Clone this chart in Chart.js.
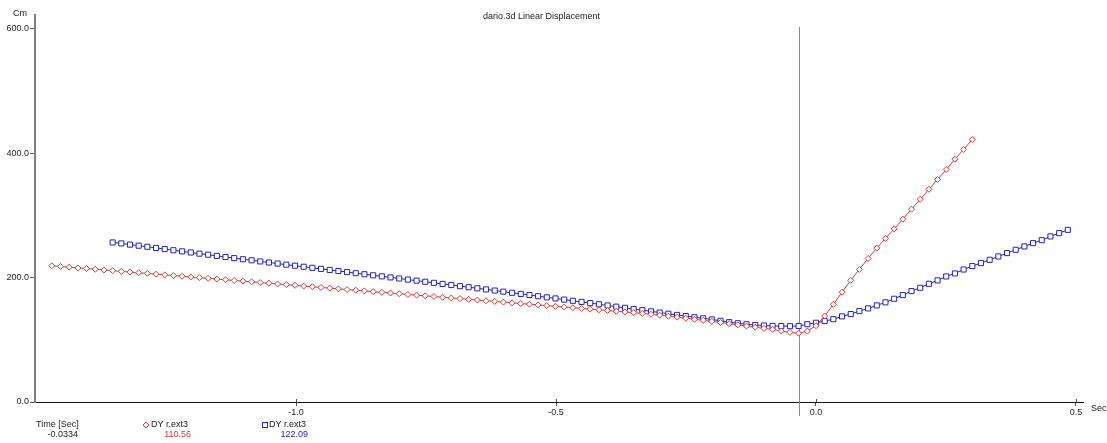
<!doctype html>
<html>
<head>
	<title>dario.3d Linear Displacement</title>
	<script src="https://cdn.jsdelivr.net/npm/chart.js@4/dist/chart.umd.min.js"></script>
	<style>
	body { margin: 0; background: #fff; }
	canvas { display: block; }
	</style>
</head>
<body>
	<canvas id="canvas1" width="1107" height="443"></canvas>
	<script>
		// time samples [Sec], 0.0167 s apart
		var times = [
			-1.4696, -1.4529, -1.4362, -1.4195, -1.4028, -1.3861, -1.3694, -1.3527, -1.336, -1.3193,
			-1.3026, -1.2859, -1.2692, -1.2525, -1.2358, -1.2191, -1.2024, -1.1857, -1.169, -1.1523,
			-1.1356, -1.1189, -1.1022, -1.0855, -1.0688, -1.0521, -1.0354, -1.0187, -1.002, -0.9853,
			-0.9686, -0.9519, -0.9352, -0.9185, -0.9018, -0.8851, -0.8684, -0.8517, -0.835, -0.8183,
			-0.8016, -0.7849, -0.7682, -0.7515, -0.7348, -0.7181, -0.7014, -0.6847, -0.668, -0.6513,
			-0.6346, -0.6179, -0.6012, -0.5845, -0.5678, -0.5511, -0.5344, -0.5177, -0.501, -0.4843,
			-0.4676, -0.4509, -0.4342, -0.4175, -0.4008, -0.3841, -0.3674, -0.3507, -0.334, -0.3173,
			-0.3006, -0.2839, -0.2672, -0.2505, -0.2338, -0.2171, -0.2004, -0.1837, -0.167, -0.1503,
			-0.1336, -0.1169, -0.1002, -0.0835, -0.0668, -0.0501, -0.0334, -0.0167, 0, 0.0167,
			0.0334, 0.0501, 0.0668, 0.0835, 0.1002, 0.1169, 0.1336, 0.1503, 0.167, 0.1837,
			0.2004, 0.2171, 0.2338, 0.2505, 0.2672, 0.2839, 0.3006, 0.3173, 0.334, 0.3507,
			0.3674, 0.3841, 0.4008, 0.4175, 0.4342, 0.4509, 0.4676, 0.4843
		];
		// DY r.ext3 (red, diamonds) [Cm]
		var dyRed = [
			219.0, 217.9, 216.8, 215.6, 214.5, 213.4, 212.3, 211.2, 210.0, 208.9,
			207.8, 206.7, 205.5, 204.4, 203.3, 202.2, 201.0, 199.9, 198.8, 197.7,
			196.5, 195.4, 194.3, 193.2, 192.0, 190.9, 189.8, 188.7, 187.6, 186.4,
			185.3, 184.2, 183.1, 181.9, 180.8, 179.7, 178.6, 177.4, 176.3, 175.2,
			174.1, 172.9, 171.8, 170.7, 169.6, 168.4, 167.3, 166.2, 165.1, 163.9,
			162.8, 161.7, 160.6, 159.4, 158.3, 157.2, 156.1, 154.9, 153.8, 152.7,
			151.6, 150.4, 149.3, 148.2, 147.1, 145.9, 144.8, 143.6, 142.4, 141.0,
			139.5, 138.0, 136.4, 134.7, 133.0, 131.3, 129.6, 127.8, 125.9, 124.0,
			122.1, 120.2, 118.4, 116.8, 114.1, 112.0, 110.56, 114.1, 122.6, 138.2,
			157.0, 176.5, 195.5, 213.2, 230.8, 247.4, 263.0, 278.4, 294.0, 310.0,
			326.0, 342.0, 357.8, 373.8, 390.4, 406.0, 422.0, null, null, null,
			null, null, null, null, null, null, null, null
		];
		// DY r.ext3 (blue, squares) [Cm]
		var dyBlue = [
			null, null, null, null, null, null, null, 256.5, 255.0, 253.0,
			251.3, 249.6, 247.6, 245.9, 244.0, 242.2, 240.4, 238.5, 236.8, 234.9,
			233.1, 231.3, 229.5, 227.8, 226.0, 224.3, 222.6, 220.8, 219.1, 217.4,
			215.7, 214.0, 212.3, 210.6, 208.9, 207.1, 205.4, 203.7, 202.0, 200.3,
			198.6, 196.8, 195.1, 193.3, 191.6, 189.8, 188.1, 186.3, 184.6, 182.8,
			181.0, 179.2, 177.4, 175.6, 173.8, 172.0, 170.1, 168.3, 166.5, 164.6,
			162.7, 160.9, 159.0, 157.1, 155.2, 153.3, 151.4, 149.5, 147.6, 145.7,
			143.8, 141.9, 140.0, 138.2, 136.3, 134.5, 132.7, 130.6, 128.4, 126.6,
			125.0, 123.8, 122.9, 122.3, 122.0, 121.9, 122.09, 125.0, 127.4, 130.1,
			133.2, 137.7, 141.4, 146.2, 150.5, 155.3, 160.2, 166.0, 171.9, 178.3,
			183.6, 190.0, 195.5, 201.9, 206.7, 213.0, 218.5, 223.3, 228.6, 234.0,
			239.4, 244.7, 250.1, 255.4, 260.2, 266.2, 271.5, 276.8
		];
		var xTicks = [-1.0, -0.5, 0.0, 0.5];
		var yTicks = [0, 200, 400, 600];
		var cursorTime = -0.0334;
		var seriesName = 'DY r.ext3';

		var RED = '#d43a3a';
		var BLUE = '#2424b4';
		var FONT = "'Liberation Sans', Arial, sans-serif";

		function toPoints(vals) {
			var pts = [];
			for (var i = 0; i < times.length; i++) {
				if (vals[i] !== null) pts.push({ x: times[i], y: vals[i] });
			}
			return pts;
		}

		var cursorIdx = times.indexOf(cursorTime);

		// cursor line, axis extension and the readout under the chart
		var overlay = {
			id: 'overlay',
			beforeDatasetsDraw: function(chart) {
				var ctx = chart.ctx;
				var cx = Math.round(chart.scales.x.getPixelForValue(cursorTime)) + 0.5;
				ctx.save();
				ctx.strokeStyle = '#8a8a8a';
				ctx.lineWidth = 1;
				ctx.beginPath();
				ctx.moveTo(cx, chart.chartArea.top - 2);
				ctx.lineTo(cx, 416);
				ctx.stroke();
				// x ticks poke a little above the axis too
				ctx.strokeStyle = '#555';
				chart.scales.x.ticks.forEach(function(t) {
					var tx = Math.round(chart.scales.x.getPixelForValue(t.value)) + 0.5;
					ctx.beginPath();
					ctx.moveTo(tx, chart.chartArea.bottom - 3);
					ctx.lineTo(tx, chart.chartArea.bottom);
					ctx.stroke();
				});
				ctx.restore();
			},
			afterDraw: function(chart) {
				var ctx = chart.ctx;
				var left = chart.chartArea.left;
				ctx.save();
				ctx.strokeStyle = '#808080';
				ctx.lineWidth = 2;
				ctx.beginPath();
				ctx.moveTo(left, 14);
				ctx.lineTo(left, chart.chartArea.top);
				ctx.stroke();

				ctx.font = '9px ' + FONT;
				ctx.textBaseline = 'middle';
				ctx.fillStyle = '#222';
				ctx.textAlign = 'right';
				ctx.fillText('Cm', 27, 14);
				ctx.textAlign = 'left';
				ctx.fillText('Sec', 1091, 409);

				// readout
				ctx.fillText('Time [Sec]', 36, 425);
				ctx.textAlign = 'right';
				ctx.fillText(cursorTime.toFixed(4), 78, 435);

				ctx.lineWidth = 1;
				ctx.strokeStyle = RED;
				ctx.beginPath();
				ctx.moveTo(146, 422); ctx.lineTo(149, 425); ctx.lineTo(146, 428); ctx.lineTo(143, 425);
				ctx.closePath();
				ctx.stroke();
				ctx.textAlign = 'left';
				ctx.fillText(seriesName, 151, 425);
				ctx.fillStyle = RED;
				ctx.textAlign = 'right';
				ctx.fillText(dyRed[cursorIdx].toFixed(2), 191, 435);

				ctx.strokeStyle = BLUE;
				ctx.strokeRect(262.5, 422.5, 5, 5);
				ctx.fillStyle = '#222';
				ctx.textAlign = 'left';
				ctx.fillText(seriesName, 269, 425);
				ctx.fillStyle = BLUE;
				ctx.textAlign = 'right';
				ctx.fillText(dyBlue[cursorIdx].toFixed(2), 308, 435);
				ctx.restore();
			}
		};

		window.onload = function() {
			var ctx1 = document.getElementById('canvas1').getContext('2d');
			window.myLine = new Chart(ctx1, {
				type: 'line',
				data: {
					datasets: [
						{
							label: seriesName,
							data: toPoints(dyRed),
							borderColor: RED,
							borderWidth: 1,
							pointStyle: 'rectRot',
							pointRadius: 3,
							pointBorderColor: RED,
							pointBackgroundColor: '#fff',
							pointBorderWidth: 1,
							fill: false,
							tension: 0
						},
						{
							label: seriesName,
							data: toPoints(dyBlue),
							borderColor: BLUE,
							borderWidth: 1,
							pointStyle: 'rect',
							pointRadius: 3.6,
							pointBorderColor: BLUE,
							pointBackgroundColor: '#fff',
							pointBorderWidth: 1,
							fill: false,
							tension: 0
						}
					]
				},
				options: {
					responsive: false,
					animation: false,
					events: [],
					layout: { padding: { left: 0, right: 24, top: 0, bottom: 0 } },
					plugins: {
						legend: { display: false },
						tooltip: { enabled: false },
						title: {
							display: true,
							text: 'dario.3d Linear Displacement',
							color: '#222',
							font: { family: FONT, size: 9, weight: 'normal' },
							padding: { top: 11, bottom: 7 }
						}
					},
					scales: {
						x: {
							type: 'linear',
							min: -1.502,
							max: 0.5135,
							afterBuildTicks: function(scale) {
								scale.ticks = xTicks.map(function(v) { return { value: v }; });
							},
							afterFit: function(scale) { scale.height = 41; },
							ticks: {
								color: '#222',
								font: { family: FONT, size: 9 },
								padding: 1,
								maxRotation: 0,
								callback: function(v) { return Number(v).toFixed(1); }
							},
							grid: { display: true, drawOnChartArea: false, drawTicks: true, tickLength: 4, color: '#555' },
							border: { display: true, color: '#111', width: 1 }
						},
						y: {
							min: 0,
							max: 600,
							afterBuildTicks: function(scale) {
								scale.ticks = yTicks.map(function(v) { return { value: v }; });
							},
							afterFit: function(scale) { scale.width = 35; },
							ticks: {
								color: '#222',
								font: { family: FONT, size: 9 },
								padding: 1,
								callback: function(v) { return Number(v).toFixed(1); }
							},
							grid: { display: true, drawOnChartArea: false, drawTicks: true, tickLength: 5, color: '#555' },
							border: { display: true, color: '#808080', width: 2 }
						}
					}
				},
				plugins: [overlay]
			});
		};
	</script>
</body>
</html>
